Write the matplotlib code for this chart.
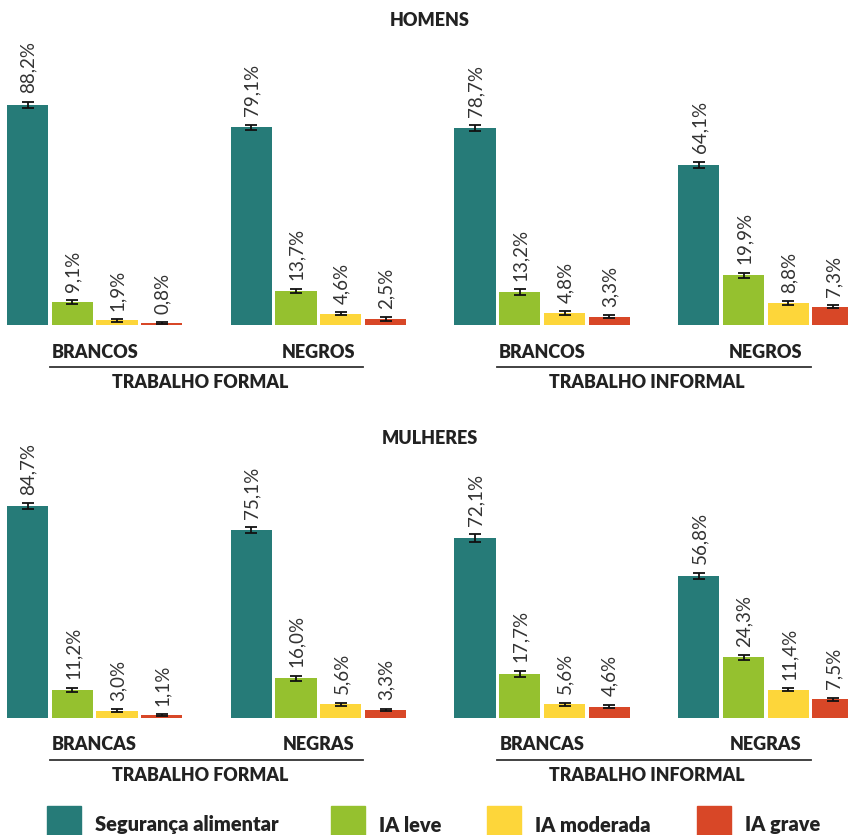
import matplotlib
matplotlib.use("Agg")
import matplotlib.pyplot as plt
from matplotlib.patches import Rectangle

plt.rcParams['font.family'] = ['Lato', 'DejaVu Sans']

# ---- data ----
series = ["Segurança alimentar", "IA leve", "IA moderada", "IA grave"]
colors = ["#267B78", "#95C12F", "#FDD63A", "#D84727"]
work_types = ["TRABALHO FORMAL", "TRABALHO INFORMAL"]
sub_homens = ["BRANCOS", "NEGROS", "BRANCOS", "NEGROS"]
sub_mulheres = ["BRANCAS", "NEGRAS", "BRANCAS", "NEGRAS"]

homens_seg = [88.2, 79.1, 78.7, 64.1]
homens_leve = [9.1, 13.7, 13.2, 19.9]
homens_mod = [1.9, 4.6, 4.8, 8.8]
homens_grave = [0.8, 2.5, 3.3, 7.3]
homens_err_seg = [1.2, 1.0, 1.2, 1.2]
homens_err_leve = [0.8, 0.9, 1.2, 1.0]
homens_err_mod = [0.5, 0.6, 0.7, 0.7]
homens_err_grave = [0.4, 0.7, 0.6, 0.6]

mulheres_seg = [84.7, 75.1, 72.1, 56.8]
mulheres_leve = [11.2, 16.0, 17.7, 24.3]
mulheres_mod = [3.0, 5.6, 5.6, 11.4]
mulheres_grave = [1.1, 3.3, 4.6, 7.5]
mulheres_err_seg = [1.2, 1.2, 1.5, 1.3]
mulheres_err_leve = [0.9, 1.0, 1.2, 0.9]
mulheres_err_mod = [0.5, 0.6, 0.6, 0.6]
mulheres_err_grave = [0.4, 0.4, 0.7, 0.6]

W, H = 848, 835
fig = plt.figure(figsize=(W / 100, H / 100), dpi=100)

TXT = "#222222"


def fmt(v):
    return f"{v:.1f}".replace(".", ",") + "%"


def panel(base_px, title, title_px, subs, vals, errs):
    ax = fig.add_axes([0, 1 - base_px / H, 1, 285 / H])
    ax.set_xlim(-0.615, 18.335)
    ax.set_ylim(0, 114)
    ax.axis("off")
    for s in range(4):
        xs = [g * 5 + s for g in range(4)]
        ax.bar(xs, vals[s], width=0.92, color=colors[s], clip_on=False)
        ax.errorbar(xs, vals[s], yerr=errs[s], fmt="none", ecolor="#111111",
                    elinewidth=1.3, capsize=4.5, capthick=1.3, clip_on=False)
        for x, v, e in zip(xs, vals[s], errs[s]):
            ax.annotate(fmt(v), (x, v + e), xytext=(0.5, 6), textcoords="offset points",
                        rotation=90, ha="center", va="bottom", fontsize=13.5,
                        color="#333333", annotation_clip=False)
    for g in range(4):
        ax.text(g * 5 + 1.5, -10.8, subs[g], ha="center", va="center",
                fontsize=13, fontweight="heavy", color=TXT, clip_on=False)
    for w in range(2):
        x0 = w * 10 + 0.5
        x1 = w * 10 + 7.5
        ax.plot([x0, x1], [-16.8, -16.8], color="#333333", lw=1.3, clip_on=False)
        ax.text((x0 + x1) / 2 - 0.15, -23.0, work_types[w], ha="center", va="center",
                fontsize=12.8, fontweight="heavy", color=TXT, clip_on=False)
    fig.text(430 / W, 1 - title_px / H, title, ha="center", va="center",
             fontsize=13, fontweight="heavy", color=TXT)


panel(325, "HOMENS", 21,
      sub_homens,
      [homens_seg, homens_leve, homens_mod, homens_grave],
      [homens_err_seg, homens_err_leve, homens_err_mod, homens_err_grave])
panel(718, "MULHERES", 438,
      sub_mulheres,
      [mulheres_seg, mulheres_leve, mulheres_mod, mulheres_grave],
      [mulheres_err_seg, mulheres_err_leve, mulheres_err_mod, mulheres_err_grave])

# ---- legend ----
leg_sq_x = [47, 331, 487, 697]
for i, name in enumerate(series):
    x = leg_sq_x[i]
    fig.patches.append(Rectangle((x / W, 0), 34 / W, 29 / H, transform=fig.transFigure,
                                 color=colors[i]))
    fig.text((x + 48) / W, 1 - 825 / H, name, ha="left", va="center",
             fontsize=14.4, fontweight="heavy", color=TXT)

fig.savefig("out.png", dpi=100)
